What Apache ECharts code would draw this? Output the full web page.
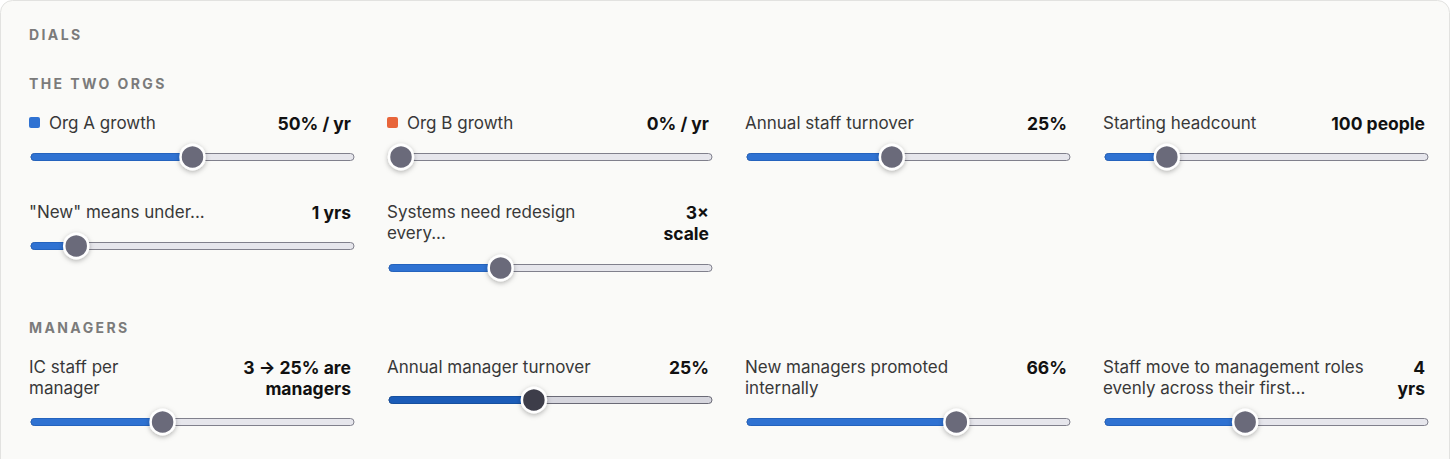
<!DOCTYPE html>
<html lang="en" style="height: 100%">
<head>
    <meta charset="UTF-8">
    <title>Dials</title>
    <script src="https://cdn.jsdelivr.net/npm/echarts@6/dist/echarts.min.js"></script>
</head>
<body style="height: 100%; margin: 0; background: #fff">
<div id="main" style="width: 1456px; height: 459px"></div>
<script>
    var sectionTitles = ['DIALS', 'THE TWO ORGS', 'MANAGERS'];
    var sliderLabels = ['Org A growth', 'Org B growth', 'Annual staff turnover', 'Starting headcount',
        '"New" means under...', 'Systems need redesign\nevery...',
        'IC staff per\nmanager', 'Annual manager turnover', 'New managers promoted\ninternally',
        'Staff move to management roles\nevenly across their first...'];
    var sliderValues = [50, 0, 25, 100, 1, 3, 3, 25, 66, 4];
    var sliderText = ['50% / yr', '0% / yr', '25%', '100 people', '1 yrs', '3×\nscale',
        '3 → 25% are\nmanagers', '25%', '66%', '4\nyrs'];
    var sliderMin = [0, 0, 5, 20, 0.5, 2, 1, 5, 0, 1];
    var sliderMax = [100, 100, 50, 500, 5, 5, 6, 50, 100, 8];

    // layout: column, label centre y, track centre y
    var place = [[0, 123, 157], [1, 123, 157], [2, 123, 157], [3, 123, 157],
        [0, 212, 246], [1, 212, 268],
        [0, 367, 422], [1, 367, 400], [2, 367, 422], [3, 367, 422]];
    var colLeft = [29, 387, 745, 1103];
    var colW = 322;
    var font = 'Inter, "Noto Sans", sans-serif';
    var activeIdx = 7;   // the slider being dragged is drawn darker

    var grids = [], xAxes = [], yAxes = [], series = [];
    var graphics = [
        {type: 'rect', shape: {x: 0.5, y: 0.5, width: 1449, height: 480, r: 12},
            style: {fill: '#fafaf8', stroke: '#e2e2e0', lineWidth: 1}, z: -10}
    ];

    [34, 83, 327].forEach(function (y, i) {
        graphics.push({type: 'text', x: 29, y: y, style: {
            text: sectionTitles[i], font: 'bold 14px ' + font, fill: '#7b7b7b', verticalAlign: 'middle'
        }});
    });

    sliderLabels.forEach(function (lab, i) {
        var p = place[i], left = colLeft[p[0]];
        var tx = left;
        if (i < 2) {
            graphics.push({type: 'rect', shape: {x: left, y: p[1] - 6, width: 11, height: 11, r: 2},
                style: {fill: i == 0 ? '#2f72d2' : '#e8653a'}});
            tx = left + 20;
        }
        graphics.push({type: 'text', x: tx, y: p[1] - 10.5, style: {
            text: lab, font: '17px ' + font, fill: '#383838', lineHeight: 21, verticalAlign: 'top'
        }});
        graphics.push({type: 'text', x: left + colW, y: p[1] - 10.5, style: {
            text: sliderText[i], font: 'bold 17.5px ' + font, fill: '#111', lineHeight: 21,
            align: 'right', verticalAlign: 'top'
        }});

        var trackL = left + 2, trackW = 323;
        grids.push({left: trackL + 12, width: trackW - 24, top: p[2] - 10, height: 20});
        xAxes.push({type: 'value', gridIndex: i, min: sliderMin[i], max: sliderMax[i], show: false});
        yAxes.push({type: 'value', gridIndex: i, min: 0, max: 1, show: false});

        var active = i == activeIdx;
        series.push({
            type: 'custom', xAxisIndex: i, yAxisIndex: i, z: 2, silent: true,
            data: [[sliderValues[i], 0.5]],
            renderItem: function (params, api) {
                var cs = params.coordSys;
                var pt = api.coord([api.value(0), api.value(1)]);
                var x0 = cs.x - 12, x1 = cs.x + cs.width + 12, y = pt[1];
                return {type: 'group', children: [
                    {type: 'rect', shape: {x: x0, y: y - 3.5, width: x1 - x0, height: 7, r: 3.5},
                        style: {fill: active ? '#d6d6de' : '#e6e6ec', stroke: active ? '#6a6a76' : '#80808c', lineWidth: 1}},
                    {type: 'rect', shape: {x: x0, y: y - 3.5, width: pt[0] - x0, height: 7, r: 3.5},
                        style: {fill: active ? '#1b5cb8' : '#2f72d2', stroke: active ? '#16509f' : '#2463be', lineWidth: 1}}
                ]};
            }
        });
        series.push({
            type: 'scatter', xAxisIndex: i, yAxisIndex: i, z: 3, silent: true,
            data: [[sliderValues[i], 0.5]],
            symbolSize: 24,
            itemStyle: {
                color: active ? '#3e3e4a' : '#6a6a7a', borderColor: '#fff', borderWidth: 2.5, opacity: 1,
                shadowBlur: 5, shadowColor: 'rgba(0,0,0,0.3)', shadowOffsetY: 1.5
            }
        });
    });

    var myChart = echarts.init(document.getElementById('main'), null, {renderer: 'svg'});
    myChart.setOption({
        backgroundColor: '#fff',
        animation: false,
        grid: grids,
        xAxis: xAxes,
        yAxis: yAxes,
        graphic: graphics,
        series: series
    });

    // section headings are letter-spaced small caps
    function spaceHeadings() {
        document.querySelectorAll('#main text').forEach(function (t) {
            if (sectionTitles.indexOf(t.textContent) >= 0) t.setAttribute('letter-spacing', '2.4px');
        });
    }
    myChart.on('finished', spaceHeadings);
    spaceHeadings();
</script>
</body>
</html>
